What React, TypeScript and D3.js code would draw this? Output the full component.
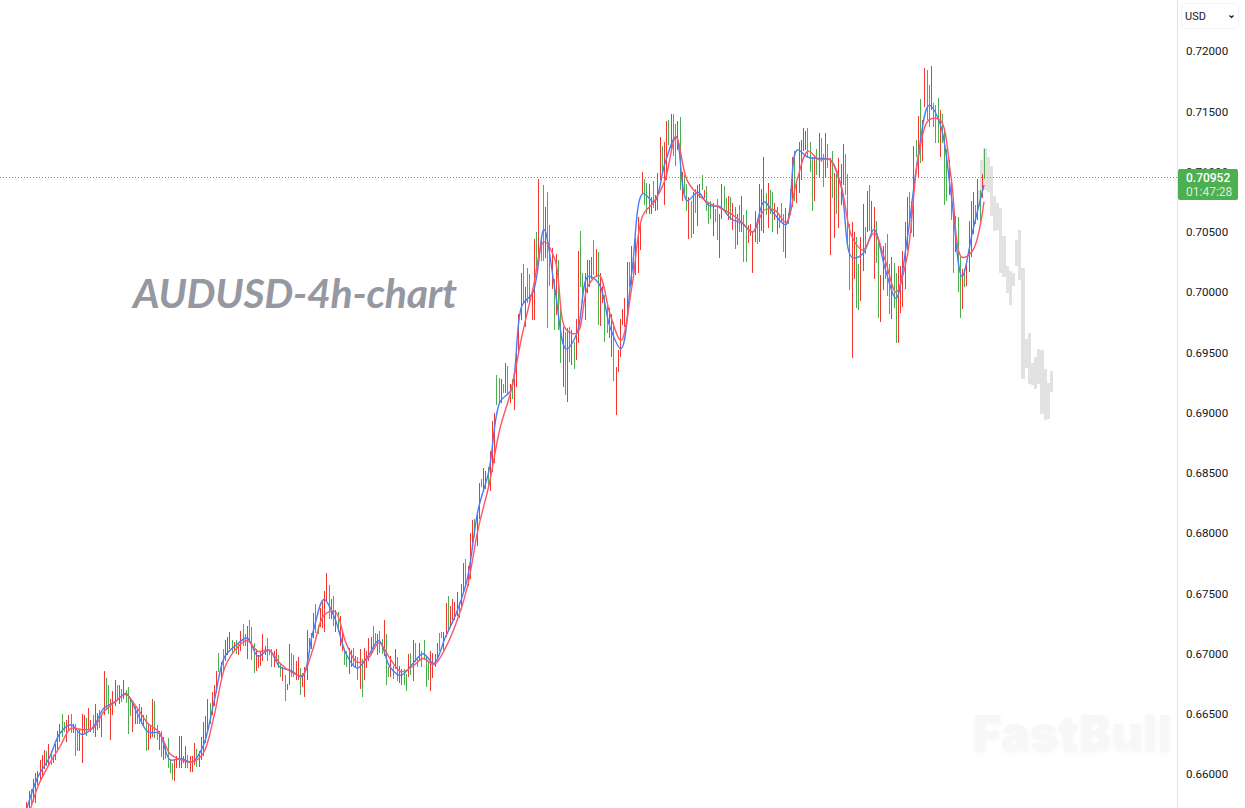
import { useRef, useEffect } from 'react';
import * as d3 from 'd3';

// prices are kept in pips (0.66000 = 6600)
const highs = [
  6576, 6585, 6587, 6595, 6600, 6602, 6611, 6615, 6619, 6618,
  6624, 6618, 6615, 6624, 6635, 6641, 6649, 6642, 6644, 6648,
  6649, 6641, 6641, 6636, 6636, 6649, 6648, 6646, 6654, 6644,
  6648, 6657, 6650, 6652, 6648, 6685, 6679, 6673, 6661, 6668,
  6677, 6673, 6673, 6670, 6677, 6669, 6671, 6661, 6658, 6655,
  6654, 6657, 6655, 6648, 6648, 6641, 6640, 6661, 6660, 6640,
  6635, 6635, 6630, 6624, 6629, 6612, 6608, 6611, 6614, 6631,
  6631, 6614, 6622, 6615, 6614, 6614, 6625, 6620, 6618, 6630,
  6642, 6647, 6661, 6658, 6667, 6673, 6685, 6700, 6692, 6703,
  6710, 6713, 6717, 6710, 6709, 6710, 6707, 6718, 6724, 6715,
  6722, 6727, 6721, 6708, 6703, 6698, 6701, 6715, 6705, 6712,
  6703, 6703, 6701, 6703, 6698, 6691, 6688, 6681, 6674, 6707,
  6700, 6698, 6693, 6696, 6687, 6683, 6688, 6719, 6712, 6716,
  6733, 6740, 6723, 6737, 6742, 6751, 6766, 6756, 6744, 6747,
  6735, 6734, 6730, 6719, 6701, 6701, 6704, 6702, 6704, 6697,
  6696, 6703, 6695, 6704, 6701, 6712, 6713, 6722, 6716, 6715,
  6718, 6711, 6727, 6715, 6688, 6697, 6689, 6703, 6696, 6689,
  6686, 6686, 6682, 6699, 6700, 6710, 6708, 6696, 6708, 6701,
  6710, 6696, 6693, 6701, 6700, 6699, 6708, 6716, 6717, 6717,
  6741, 6747, 6739, 6744, 6742, 6750, 6742, 6757, 6774, 6778,
  6772, 6799, 6810, 6811, 6815, 6841, 6844, 6853, 6851, 6854,
  6867, 6892, 6899, 6930, 6928, 6927, 6923, 6940, 6938, 6923,
  6927, 6927, 6951, 6981, 7015, 7022, 7003, 7019, 7014, 6999,
  7043, 7049, 7093, 7045, 7088, 7070, 7082, 7055, 7036, 7010,
  7031, 7026, 6985, 6970, 6966, 6969, 6970, 6968, 6958, 6977,
  7033, 7050, 7015, 7015, 7026, 7026, 7028, 7042, 7035, 7032,
  7015, 7004, 6997, 6990, 6986, 6981, 6974, 6937, 6951, 6977,
  6985, 6994, 7024, 7024, 7037, 7024, 7044, 7061, 7057, 7099,
  7093, 7090, 7089, 7078, 7091, 7080, 7098, 7128, 7120, 7124,
  7141, 7142, 7147, 7147, 7139, 7141, 7144, 7099, 7096, 7089,
  7078, 7075, 7082, 7085, 7088, 7089, 7096, 7084, 7087, 7074,
  7075, 7073, 7068, 7076, 7064, 7089, 7087, 7077, 7079, 7078,
  7073, 7070, 7064, 7071, 7079, 7063, 7067, 7055, 7056, 7049,
  7066, 7060, 7089, 7085, 7111, 7081, 7090, 7084, 7082, 7073,
  7070, 7064, 7073, 7064, 7069, 7065, 7085, 7111, 7116, 7089,
  7124, 7125, 7135, 7133, 7135, 7124, 7111, 7112, 7118, 7131,
  7127, 7114, 7131, 7122, 7110, 7116, 7098, 7097, 7110, 7105,
  7122, 7114, 7097, 7056, 7057, 7049, 7045, 7022, 7045, 7072,
  7053, 7083, 7088, 7075, 7070, 7058, 7044, 7013, 7037, 7040,
  7047, 7022, 7028, 7023, 7015, 7021, 7021, 7033, 7057, 7078,
  7082, 7075, 7120, 7125, 7145, 7159, 7142, 7185, 7183, 7171,
  7187, 7156, 7154, 7160, 7150, 7147, 7135, 7118, 7109, 7093,
  7065, 7062, 7061, 7028, 7018, 7018, 7023, 7058, 7075, 7082,
  7071, 7093, 7084, 7097, 7118,
];

const lows = [
  6571, 6571, 6573, 6576, 6575, 6590, 6594, 6597, 6603, 6606,
  6607, 6607, 6608, 6611, 6619, 6626, 6630, 6634, 6626, 6636,
  6633, 6633, 6614, 6618, 6618, 6608, 6632, 6631, 6636, 6634,
  6633, 6630, 6636, 6637, 6630, 6648, 6652, 6649, 6627, 6648,
  6656, 6661, 6657, 6659, 6661, 6658, 6632, 6647, 6634, 6641,
  6641, 6641, 6641, 6638, 6618, 6619, 6628, 6630, 6629, 6627,
  6619, 6613, 6611, 6612, 6604, 6600, 6594, 6593, 6604, 6604,
  6604, 6608, 6604, 6604, 6601, 6601, 6607, 6605, 6605, 6611,
  6614, 6625, 6636, 6641, 6648, 6656, 6666, 6684, 6676, 6685,
  6693, 6698, 6703, 6699, 6702, 6699, 6698, 6701, 6705, 6705,
  6695, 6710, 6694, 6683, 6685, 6687, 6689, 6693, 6698, 6693,
  6698, 6688, 6688, 6692, 6687, 6680, 6676, 6660, 6669, 6673,
  6680, 6680, 6677, 6677, 6665, 6671, 6663, 6677, 6700, 6703,
  6712, 6716, 6715, 6721, 6720, 6717, 6742, 6728, 6728, 6722,
  6717, 6717, 6705, 6701, 6690, 6688, 6682, 6688, 6688, 6688,
  6677, 6670, 6663, 6677, 6687, 6693, 6698, 6703, 6708, 6698,
  6700, 6699, 6697, 6673, 6680, 6680, 6678, 6686, 6676, 6675,
  6673, 6673, 6668, 6680, 6681, 6676, 6692, 6688, 6694, 6688,
  6694, 6671, 6677, 6668, 6679, 6688, 6695, 6701, 6712, 6702,
  6713, 6719, 6722, 6727, 6727, 6730, 6729, 6735, 6749, 6756,
  6755, 6761, 6791, 6796, 6788, 6811, 6837, 6836, 6836, 6837,
  6834, 6850, 6857, 6905, 6907, 6907, 6915, 6915, 6914, 6907,
  6910, 6901, 6920, 6949, 6976, 6990, 6970, 6990, 6990, 6976,
  6976, 7017, 7021, 7025, 7025, 7027, 6969, 7004, 7002, 6968,
  6980, 6968, 6940, 6920, 6914, 6908, 6941, 6939, 6935, 6943,
  6957, 7003, 6990, 6976, 6998, 7003, 7010, 7013, 7012, 6972,
  6971, 6990, 6958, 6965, 6961, 6945, 6925, 6897, 6933, 6945,
  6972, 6970, 6977, 7003, 7005, 7012, 7013, 7015, 7034, 7081,
  7071, 7064, 7064, 7064, 7069, 7066, 7067, 7092, 7098, 7071,
  7092, 7121, 7116, 7112, 7104, 7117, 7084, 7075, 7081, 7066,
  7043, 7044, 7047, 7065, 7054, 7077, 7084, 7077, 7066, 7056,
  7060, 7046, 7057, 7042, 7027, 7060, 7067, 7064, 7059, 7059,
  7051, 7035, 7038, 7049, 7049, 7024, 7024, 7040, 7046, 7015,
  7041, 7039, 7041, 7050, 7048, 7063, 7052, 7064, 7049, 7059,
  7047, 7052, 7057, 7032, 7027, 7056, 7063, 7070, 7075, 7073,
  7081, 7092, 7116, 7117, 7111, 7099, 7066, 7075, 7096, 7095,
  7107, 7086, 7094, 7102, 7030, 7077, 7044, 7064, 7052, 7071,
  7088, 7080, 7039, 7001, 6944, 7010, 6986, 6984, 6992, 7017,
  7031, 7049, 7050, 7048, 7010, 7023, 6978, 6974, 7001, 7010,
  6996, 6981, 6977, 6986, 6957, 6957, 6982, 6987, 7002, 7034,
  7060, 7048, 7045, 7111, 7095, 7106, 7108, 7153, 7142, 7136,
  7150, 7136, 7123, 7123, 7111, 7123, 7071, 7075, 7080, 7059,
  7015, 7032, 6999, 6978, 6985, 7003, 7004, 7016, 7028, 7047,
  7056, 7059, 7056, 7077, 7093,
];

// one letter per bar, r = red, g = green
const barColors = [
  'rrgrrrrrrg', 'rgrrrrggrr', 'grggrrrgrr', 'grrgrrggrr', 'rgrgrgggrr',
  'ggrrgrrrgg', 'rgrggggrrr', 'rrrgrrrgrr', 'rrrgrrrgrg', 'rrrgrgrrgg',
  'rgggrrrrrg', 'ggrrggrgrr', 'ggrrgrrrrr', 'rggrrrrgrg', 'rgrrggrrgr',
  'grgrrrrggr', 'ggrggrgrgr', 'rggrgrggrg', 'gggrrrrggr', 'rgrrrrgrrg',
  'rrrgrrgrrg', 'rrrggrgrgr', 'grrrrgrggr', 'rgrggrggrg', 'rggrgrgrgr',
  'rggrrrrgrg', 'rrggrrgrrr', 'rrrgrgrrrr', 'ggrrgrrrgr', 'rgrggrgrgg',
  'rgrgrrgrgg', 'grggrrggrg', 'rgrgrggrrr', 'rgrrrgrggr', 'rgggrggrgr',
  'rrrrgggrgr', 'ggrgrgrgrr', 'rgggrrggrr', 'grgrrggrrg', 'ggrggrrrrr',
  'ggrgrgrrgg', 'rgggrgggrg', 'grggrgrrrr', 'grgrg',
].join('');

// moving averages, one reading every fifth bar
const fastMA = [
  6571, 6597, 6612, 6633, 6640, 6632, 6638, 6654, 6659, 6666,
  6650, 6634, 6633, 6611, 6612, 6609, 6622, 6659, 6697, 6706,
  6712, 6697, 6702, 6688, 6685, 6680, 6717, 6744, 6728, 6699,
  6687, 6697, 6710, 6688, 6681, 6690, 6699, 6691, 6712, 6732,
  6760, 6818, 6851, 6908, 6918, 6988, 6999, 7051, 7001, 6952,
  6965, 7012, 7006, 6970, 6952, 7017, 7081, 7074, 7106, 7128,
  7075, 7082, 7071, 7070, 7060, 7056, 7049, 7074, 7063, 7055,
  7117, 7111, 7110, 7109, 7087, 7028, 7031, 7051, 7019, 6994,
  7042, 7111, 7154, 7139, 7081, 7012, 7051, 7088,
];

const slowMA = [
  6560, 6589, 6607, 6622, 6637, 6636, 6637, 6651, 6659, 6665,
  6654, 6641, 6634, 6616, 6611, 6609, 6616, 6647, 6688, 6703,
  6710, 6701, 6702, 6691, 6684, 6681, 6703, 6731, 6734, 6708,
  6692, 6695, 6708, 6695, 6684, 6688, 6695, 6690, 6703, 6724,
  6753, 6802, 6839, 6886, 6917, 6963, 7002, 7041, 7026, 6968,
  6965, 7004, 7013, 6981, 6959, 7004, 7063, 7074, 7092, 7128,
  7092, 7080, 7073, 7069, 7064, 7057, 7049, 7067, 7067, 7057,
  7092, 7116, 7109, 7109, 7088, 7045, 7034, 7048, 7026, 6999,
  7028, 7109, 7142, 7142, 7095, 7028, 7034, 7074,
];

// pale projected bars right of the last candle
const ghostHighs = [
  7084, 7109, 7119, 7111, 7104, 7079, 7073, 7069, 7046, 7021, 7017, 7015,
  7042, 7051, 7019, 6960, 6965, 6940, 6945, 6952, 6951, 6935, 6924, 6934,
];
const ghostLows = [
  7070, 7081, 7084, 7082, 7062, 7050, 7051, 7015, 7012, 6998, 6988, 7004,
  7021, 7009, 6927, 6936, 6923, 6922, 6919, 6923, 6898, 6893, 6894, 6916,
];

const priceTicks = [7200, 7150, 7100, 7050, 7000, 6950, 6900, 6850, 6800, 6750, 6700, 6650, 6600];
const lastPrice = 7095.2;
const lastPriceLabel = '0.70952';
const countdownLabel = '01:47:28';

const GREEN = '#4caf50';
const RED = '#f4372f';

export default function App() {
  const svgRef = useRef<SVGSVGElement>(null);

  useEffect(() => {
    if (!svgRef.current) return;

    const width = 1245;
    const height = 808;
    const axisX = 1177;

    const svg = d3.select(svgRef.current)
      .attr('width', width)
      .attr('height', height);

    svg.selectAll('*').remove();

    const x = d3.scaleLinear().domain([0, highs.length - 1]).range([26.4, 984]);
    const maX = d3.scaleLinear().domain([0, fastMA.length - 1]).range([27, 984]);
    const y = d3.scaleLinear().domain([6600, 7200]).range([773, 50]);
    const ghostX = d3.scaleBand<number>()
      .domain(d3.range(ghostHighs.length))
      .range([977, 1053]);

    svg.append('rect')
      .attr('width', width)
      .attr('height', height)
      .attr('fill', '#fff');

    // watermark
    svg.append('text')
      .attr('x', 973)
      .attr('y', 751)
      .attr('font-family', 'Inter, sans-serif')
      .attr('font-weight', 900)
      .attr('font-size', 49)
      .attr('fill', '#f7f7f7')
      .attr('textLength', 199)
      .attr('lengthAdjust', 'spacingAndGlyphs')
      .style('filter', 'drop-shadow(0 2px 2px #f8f8f8)')
      .text('FastBull');

    svg.append('text')
      .attr('x', 133)
      .attr('y', 308)
      .attr('font-family', 'Lato, sans-serif')
      .attr('font-style', 'italic')
      .attr('font-weight', 700)
      .attr('font-size', 41)
      .attr('fill', '#9598a1')
      .attr('textLength', 324)
      .text('AUDUSD-4h-chart');

    svg.append('g')
      .selectAll('rect')
      .data(ghostHighs)
      .join('rect')
      .attr('x', (_, i) => ghostX(i)!)
      .attr('width', ghostX.bandwidth())
      .attr('y', d => y(d))
      .attr('height', (d, i) => y(ghostLows[i]) - y(d))
      .attr('fill', '#e2e2e2')
      .attr('shape-rendering', 'crispEdges');

    // last price line
    svg.append('line')
      .attr('x1', 0)
      .attr('x2', axisX)
      .attr('y1', Math.ceil(y(lastPrice)) + 0.5)
      .attr('y2', Math.ceil(y(lastPrice)) + 0.5)
      .attr('stroke', GREEN)
      .attr('stroke-dasharray', '1 2')
      .attr('shape-rendering', 'crispEdges');

    svg.append('g')
      .selectAll('rect')
      .data(highs)
      .join('rect')
      .attr('x', (_, i) => Math.round(x(i)))
      .attr('width', 1)
      .attr('y', d => y(d))
      .attr('height', (d, i) => y(lows[i]) - y(d))
      .attr('fill', (_, i) => (barColors[i] === 'g' ? GREEN : RED))
      .attr('shape-rendering', 'crispEdges');

    const maLine = d3.line<number>()
      .x((_, i) => maX(i))
      .y(d => y(d))
      .curve(d3.curveCatmullRom);

    svg.append('path')
      .datum(fastMA)
      .attr('fill', 'none')
      .attr('stroke', '#4a7df5')
      .attr('stroke-width', 1.4)
      .attr('d', maLine);

    svg.append('path')
      .datum(slowMA)
      .attr('fill', 'none')
      .attr('stroke', '#ff5567')
      .attr('stroke-width', 1.4)
      .attr('d', maLine);

    // price scale
    svg.append('rect')
      .attr('x', axisX)
      .attr('width', width - axisX)
      .attr('height', height)
      .attr('fill', '#fff');

    svg.append('line')
      .attr('x1', axisX + 0.5)
      .attr('x2', axisX + 0.5)
      .attr('y2', height)
      .attr('stroke', '#e0e3eb');

    const axis = svg.append('g')
      .attr('transform', `translate(${axisX},0)`)
      .call(
        d3.axisRight(y)
          .tickValues(priceTicks)
          .tickSize(0)
          .tickPadding(9)
          .tickFormat(d => (+d / 10000).toFixed(5))
      );
    axis.select('.domain').remove();
    axis.selectAll('text')
      .attr('font-family', 'Roboto, sans-serif')
      .attr('font-size', 11.6)
      .attr('dy', '0.42em')
      .attr('fill', '#131722');

    svg.append('rect')
      .attr('x', 1181.5)
      .attr('y', 3.5)
      .attr('width', 57)
      .attr('height', 25)
      .attr('rx', 4)
      .attr('fill', '#fff')
      .attr('stroke', '#f0f3fa');

    svg.append('text')
      .attr('x', 1185)
      .attr('y', 20)
      .attr('font-family', 'Roboto, sans-serif')
      .attr('font-size', 11)
      .attr('fill', '#131722')
      .text('USD');

    svg.append('path')
      .attr('d', 'M1229.5 15.5l2 2 2-2')
      .attr('fill', 'none')
      .attr('stroke', '#131722')
      .attr('stroke-width', 1.2);

    svg.append('rect')
      .attr('x', 1178)
      .attr('y', 169)
      .attr('width', 60)
      .attr('height', 31)
      .attr('rx', 2)
      .attr('fill', GREEN);

    svg.append('text')
      .attr('x', 1186)
      .attr('y', 182)
      .attr('font-family', 'Roboto, sans-serif')
      .attr('font-size', 12)
      .attr('font-weight', 500)
      .attr('fill', '#fff')
      .text(lastPriceLabel);

    svg.append('text')
      .attr('x', 1186)
      .attr('y', 196)
      .attr('font-family', 'Roboto, sans-serif')
      .attr('font-size', 12)
      .attr('fill', '#fff')
      .attr('fill-opacity', 0.8)
      .text(countdownLabel);
  }, []);

  return <svg ref={svgRef} style={{ position: 'absolute', left: 0, top: 0, display: 'block' }}></svg>;
}
